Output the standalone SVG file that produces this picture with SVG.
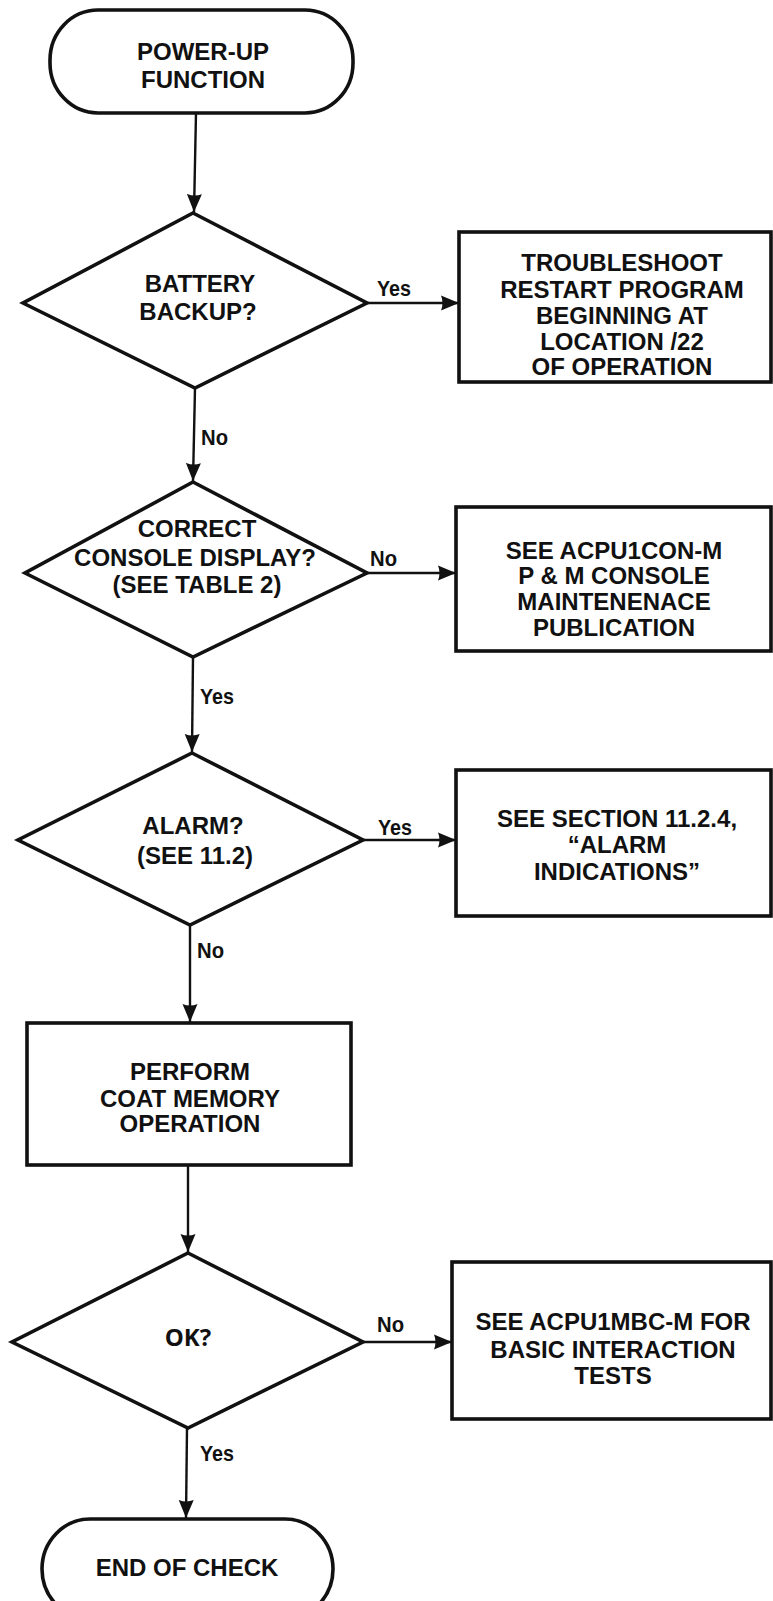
<svg xmlns="http://www.w3.org/2000/svg" width="773" height="1601" viewBox="0 0 773 1601">
  <style>
    .shape { fill: #ffffff; stroke: #111111; stroke-width: 3.6; stroke-linejoin: miter; }
    .edge { fill: none; stroke: #111111; stroke-width: 2.4; }
    .txt { font-family: "Liberation Sans", Arial, Helvetica, sans-serif; font-weight: bold; font-size: 24px; fill: #111111; text-anchor: middle; }
    .ok { font-family: "Open Sans", "Liberation Sans", sans-serif; font-weight: bold; font-size: 24px; fill: #111111; text-anchor: middle; }
    .lbl { font-family: "Liberation Sans", Arial, Helvetica, sans-serif; font-weight: bold; font-size: 22px; fill: #111111; text-anchor: start; }
  </style>
  <defs>
    <marker id="arrow" viewBox="0 0 18 16" refX="18" refY="8" markerWidth="18" markerHeight="16" markerUnits="userSpaceOnUse" orient="auto">
      <path d="M0,0.5 L18,8 L0,15.5 Q3,8 0,0.5 z" fill="#111111"/>
    </marker>
  </defs>
  <rect width="773" height="1601" fill="#ffffff"/>

  <!-- connectors -->
  <g id="connectors">
    <line class="edge" x1="196" y1="113" x2="194" y2="212" marker-end="url(#arrow)"/>
    <line class="edge" x1="367" y1="303" x2="459" y2="303" marker-end="url(#arrow)"/>
    <line class="edge" x1="195" y1="388" x2="193" y2="481" marker-end="url(#arrow)"/>
    <line class="edge" x1="367" y1="573" x2="456" y2="573" marker-end="url(#arrow)"/>
    <line class="edge" x1="193" y1="657" x2="192" y2="752" marker-end="url(#arrow)"/>
    <line class="edge" x1="363" y1="840" x2="456" y2="840" marker-end="url(#arrow)"/>
    <line class="edge" x1="190" y1="925" x2="190" y2="1022" marker-end="url(#arrow)"/>
    <line class="edge" x1="188" y1="1165" x2="188" y2="1252" marker-end="url(#arrow)"/>
    <line class="edge" x1="363" y1="1342" x2="452" y2="1342" marker-end="url(#arrow)"/>
    <line class="edge" x1="187" y1="1428" x2="186" y2="1518" marker-end="url(#arrow)"/>

    <text class="lbl" x="377" y="296" textLength="34" lengthAdjust="spacingAndGlyphs">Yes</text>
    <text class="lbl" x="201" y="445" textLength="27" lengthAdjust="spacingAndGlyphs">No</text>
    <text class="lbl" x="370" y="566" textLength="27" lengthAdjust="spacingAndGlyphs">No</text>
    <text class="lbl" x="200" y="704" textLength="34" lengthAdjust="spacingAndGlyphs">Yes</text>
    <text class="lbl" x="378" y="835" textLength="34" lengthAdjust="spacingAndGlyphs">Yes</text>
    <text class="lbl" x="197" y="958" textLength="27" lengthAdjust="spacingAndGlyphs">No</text>
    <text class="lbl" x="377" y="1332" textLength="27" lengthAdjust="spacingAndGlyphs">No</text>
    <text class="lbl" x="200" y="1461" textLength="34" lengthAdjust="spacingAndGlyphs">Yes</text>
  </g>

  <!-- start terminator -->
  <g id="power-up">
    <rect class="shape" x="50" y="10" width="303" height="103" rx="48" ry="50"/>
    <text class="txt" x="203" y="60">POWER-UP</text>
    <text class="txt" x="203" y="88">FUNCTION</text>
  </g>

  <!-- decision: battery backup -->
  <g id="battery-backup">
    <polygon class="shape" points="193,213 367,303 195,388 23,303"/>
    <text class="txt" x="200" y="292">BATTERY</text>
    <text class="txt" x="198" y="320">BACKUP?</text>
  </g>

  <g id="troubleshoot">
    <rect class="shape" x="459" y="232" width="312" height="150"/>
    <text class="txt" x="622" y="271">TROUBLESHOOT</text>
    <text class="txt" x="622" y="298">RESTART PROGRAM</text>
    <text class="txt" x="622" y="324">BEGINNING AT</text>
    <text class="txt" x="622" y="350">LOCATION /22</text>
    <text class="txt" x="622" y="375">OF OPERATION</text>
  </g>

  <!-- decision: console display -->
  <g id="console-display">
    <polygon class="shape" points="193,482 367,573 193,657 25,573"/>
    <text class="txt" x="197" y="537">CORRECT</text>
    <text class="txt" x="195" y="566">CONSOLE DISPLAY?</text>
    <text class="txt" x="197" y="593">(SEE TABLE 2)</text>
  </g>

  <g id="console-publication">
    <rect class="shape" x="456" y="507" width="315" height="144"/>
    <text class="txt" x="614" y="559">SEE ACPU1CON-M</text>
    <text class="txt" x="614" y="584">P &amp; M CONSOLE</text>
    <text class="txt" x="614" y="610">MAINTENENACE</text>
    <text class="txt" x="614" y="636">PUBLICATION</text>
  </g>

  <!-- decision: alarm -->
  <g id="alarm">
    <polygon class="shape" points="192,753 363,840 190,925 18,840"/>
    <text class="txt" x="193" y="834">ALARM?</text>
    <text class="txt" x="195" y="864">(SEE 11.2)</text>
  </g>

  <g id="alarm-indications">
    <rect class="shape" x="456" y="770" width="315" height="146"/>
    <text class="txt" x="617" y="827">SEE SECTION 11.2.4,</text>
    <text class="txt" x="617" y="853">“ALARM</text>
    <text class="txt" x="617" y="880">INDICATIONS”</text>
  </g>

  <g id="coat-memory">
    <rect class="shape" x="27" y="1023" width="324" height="142"/>
    <text class="txt" x="190" y="1080">PERFORM</text>
    <text class="txt" x="190" y="1107">COAT MEMORY</text>
    <text class="txt" x="190" y="1132">OPERATION</text>
  </g>

  <!-- decision: ok -->
  <g id="ok">
    <polygon class="shape" points="188,1253 363,1342 188,1428 12,1342"/>
    <text class="ok" x="188" y="1346">OK?</text>
  </g>

  <g id="interaction-tests">
    <rect class="shape" x="452" y="1262" width="319" height="157"/>
    <text class="txt" x="613" y="1330">SEE ACPU1MBC-M FOR</text>
    <text class="txt" x="613" y="1358">BASIC INTERACTION</text>
    <text class="txt" x="613" y="1384">TESTS</text>
  </g>

  <!-- end terminator -->
  <g id="end-of-check">
    <rect class="shape" x="42" y="1519" width="291" height="100" rx="48" ry="50"/>
    <text class="txt" x="187" y="1576">END OF CHECK</text>
  </g>
</svg>
